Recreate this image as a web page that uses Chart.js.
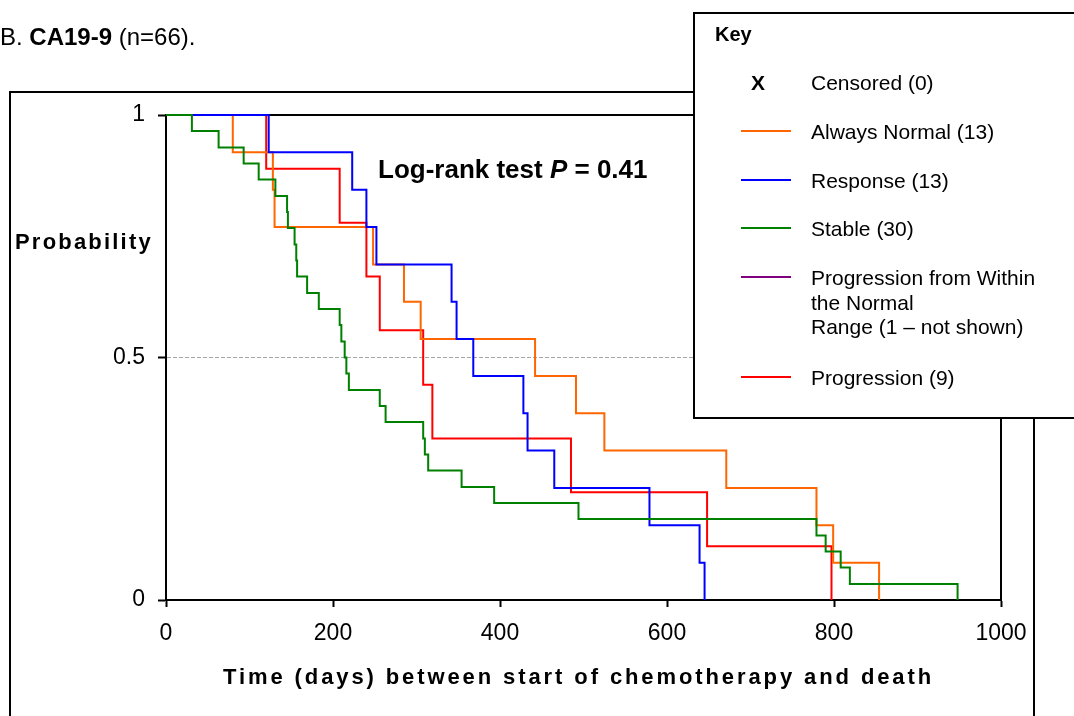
<!DOCTYPE html>
<html>
<head>
<meta charset="utf-8">
<script src="https://cdn.jsdelivr.net/npm/chart.js@4.4.1/dist/chart.umd.min.js"></script>
<style>
  html, body { margin: 0; padding: 0; background: #fff; }
  body { width: 1074px; height: 716px; position: relative; overflow: hidden;
         font-family: 'Liberation Sans', Arial, sans-serif; color: #000; }
  #chart { position: absolute; left: 0; top: 0; }
  .txt { position: absolute; line-height: 1; white-space: nowrap; }
  #frame { position: absolute; left: 9px; top: 91px; width: 1022px; height: 700px;
           border: 2px solid #000; pointer-events: none; }
  #key { position: absolute; left: 693px; top: 12px; width: 420px; height: 403px;
         border: 2px solid #000; background: #fff; }
  #key .swatch { position: absolute; left: 46px; width: 50px; height: 2px; }
  #key .label { position: absolute; left: 116px; font-size: 21px; line-height: 24.7px; white-space: pre-line; }
</style>
</head>
<body>
<canvas id="chart" width="1074" height="716"></canvas>
<div id="frame"></div>
<div class="txt" style="left:0px; top:25px; font-size:24px;">B. <b>CA19-9</b> (n=66).</div>
<div class="txt" style="left:15px; top:231px; font-size:22px; font-weight:bold; letter-spacing:2.2px;">Probability</div>
<div class="txt" style="left:378px; top:156px; font-size:26px; font-weight:bold;">Log-rank test <i>P</i> = 0.41</div>
<div class="txt" style="left:223px; top:666px; font-size:22px; font-weight:bold; letter-spacing:2.9px;">Time (days) between start of chemotherapy and death</div>
<div id="key"></div>

<script>
// survival curves (days, probability)
const normalDays = [0, 80, 128, 130, 248, 285, 305, 442, 491, 525, 671, 779, 799, 854];
const normalSurv = [1, 0.923, 0.846, 0.769, 0.692, 0.615, 0.538, 0.462, 0.385, 0.308, 0.231, 0.154, 0.077, 0];

const responseDays = [0, 123, 223, 240, 252, 342, 348, 368, 428, 433, 465, 579, 639, 645];
const responseSurv = [1, 0.923, 0.846, 0.769, 0.692, 0.615, 0.538, 0.462, 0.385, 0.308, 0.231, 0.154, 0.077, 0];

const stableDays = [0, 31, 63, 93, 111, 131, 145, 146, 154, 156, 157, 169, 183, 208, 210, 214,
                    216, 219, 256, 263, 308, 310, 314, 354, 393, 494, 779, 790, 808, 819, 948];
const stableSurv = [1, 0.967, 0.933, 0.9, 0.867, 0.833, 0.8, 0.767, 0.733, 0.7, 0.667, 0.633, 0.6, 0.567, 0.533, 0.5,
                    0.467, 0.433, 0.4, 0.367, 0.333, 0.3, 0.267, 0.233, 0.2, 0.167, 0.133, 0.1, 0.067, 0.033, 0];

const progressionDays = [0, 120, 208, 240, 256, 308, 319, 485, 648, 797];
const progressionSurv = [1, 0.889, 0.778, 0.667, 0.556, 0.444, 0.333, 0.222, 0.111, 0];

const seriesNames = ['Always Normal (13)', 'Response (13)', 'Stable (30)',
                     'Progression from Within\nthe Normal\nRange (1 \u2013 not shown)', 'Progression (9)'];
const seriesColors = ['#ff6600', '#0000ff', '#008000', '#800080', '#ff0000'];
const censoredLabel = 'Censored (0)';

const xTicks = [0, 200, 400, 600, 800, 1000];
const yTicks = [0, 0.5, 1];

function points(days, surv) {
    return days.map((d, i) => ({ x: d, y: surv[i] }));
}

function curve(label, color, days, surv) {
    return {
        label: label,
        data: points(days, surv),
        borderColor: color,
        borderWidth: 2,
        pointRadius: 0,
        stepped: 'before',
        fill: false,
        clip: false
    };
}

// key box drawn as html on top of the chart
const key = document.getElementById('key');
let html = '<div class="txt" style="left:20px; top:10px; font-size:20px; font-weight:bold;">Key</div>';
html += '<div class="txt" style="left:56px; top:58px; font-size:21px; font-weight:bold;">X</div>';
html += '<div class="label" style="top:57px;">' + censoredLabel + '</div>';
const rowTops = [106, 155, 203, 252, 352];
seriesNames.forEach((name, i) => {
    const top = rowTops[i];
    html += '<div class="swatch" style="top:' + (top + 10) + 'px; background:' + seriesColors[i] + ';"></div>';
    html += '<div class="label" style="top:' + top + 'px;">' + name + '</div>';
});
key.innerHTML = html;

// box round the plot area (top and right edges)
const plotBox = {
    id: 'plotBox',
    beforeDatasetsDraw(chart) {
        const { ctx, chartArea } = chart;
        ctx.save();
        ctx.strokeStyle = '#000';
        ctx.lineWidth = 2;
        ctx.beginPath();
        ctx.moveTo(chartArea.left, chartArea.top);
        ctx.lineTo(chartArea.right, chartArea.top);
        ctx.lineTo(chartArea.right, chartArea.bottom);
        ctx.stroke();
        ctx.restore();
    }
};

const tickFont = { family: "'Liberation Sans', Arial, sans-serif", size: 23 };

new Chart(document.getElementById('chart'), {
    type: 'line',
    data: {
        datasets: [
            curve(seriesNames[2], seriesColors[2], stableDays, stableSurv),
            curve(seriesNames[1], seriesColors[1], responseDays, responseSurv),
            curve(seriesNames[0], seriesColors[0], normalDays, normalSurv),
            curve(seriesNames[4], seriesColors[4], progressionDays, progressionSurv)
        ]
    },
    options: {
        responsive: false,
        animation: false,
        layout: { padding: { left: 0, right: 73, top: 115, bottom: 0 } },
        plugins: {
            legend: { display: false },
            tooltip: { enabled: false }
        },
        scales: {
            x: {
                type: 'linear',
                min: 0,
                max: 1000,
                afterBuildTicks: (s) => { s.ticks = xTicks.map(v => ({ value: v })); },
                afterFit: (s) => { s.height = 116; },
                ticks: {
                    color: '#000',
                    font: tickFont,
                    padding: 13,
                    maxRotation: 0,
                    callback: (v) => String(v)
                },
                grid: {
                    drawOnChartArea: false,
                    tickLength: 7,
                    tickColor: '#000',
                    tickWidth: 2
                },
                border: { color: '#000', width: 2 }
            },
            y: {
                min: 0,
                max: 1,
                afterBuildTicks: (s) => { s.ticks = yTicks.map(v => ({ value: v })); },
                afterFit: (s) => { s.width = 166; },
                ticks: {
                    color: '#000',
                    font: tickFont,
                    padding: 13,
                    callback: (v) => String(v)
                },
                grid: {
                    color: (c) => (c.tick && c.tick.value === 0.5) ? '#a6a6a6' : 'rgba(0,0,0,0)',
                    lineWidth: 1,
                    tickLength: 8,
                    tickColor: '#000',
                    tickWidth: 2
                },
                border: { color: '#000', width: 2, dash: [4, 2] }
            }
        }
    },
    plugins: [plotBox]
});
</script>
</body>
</html>
